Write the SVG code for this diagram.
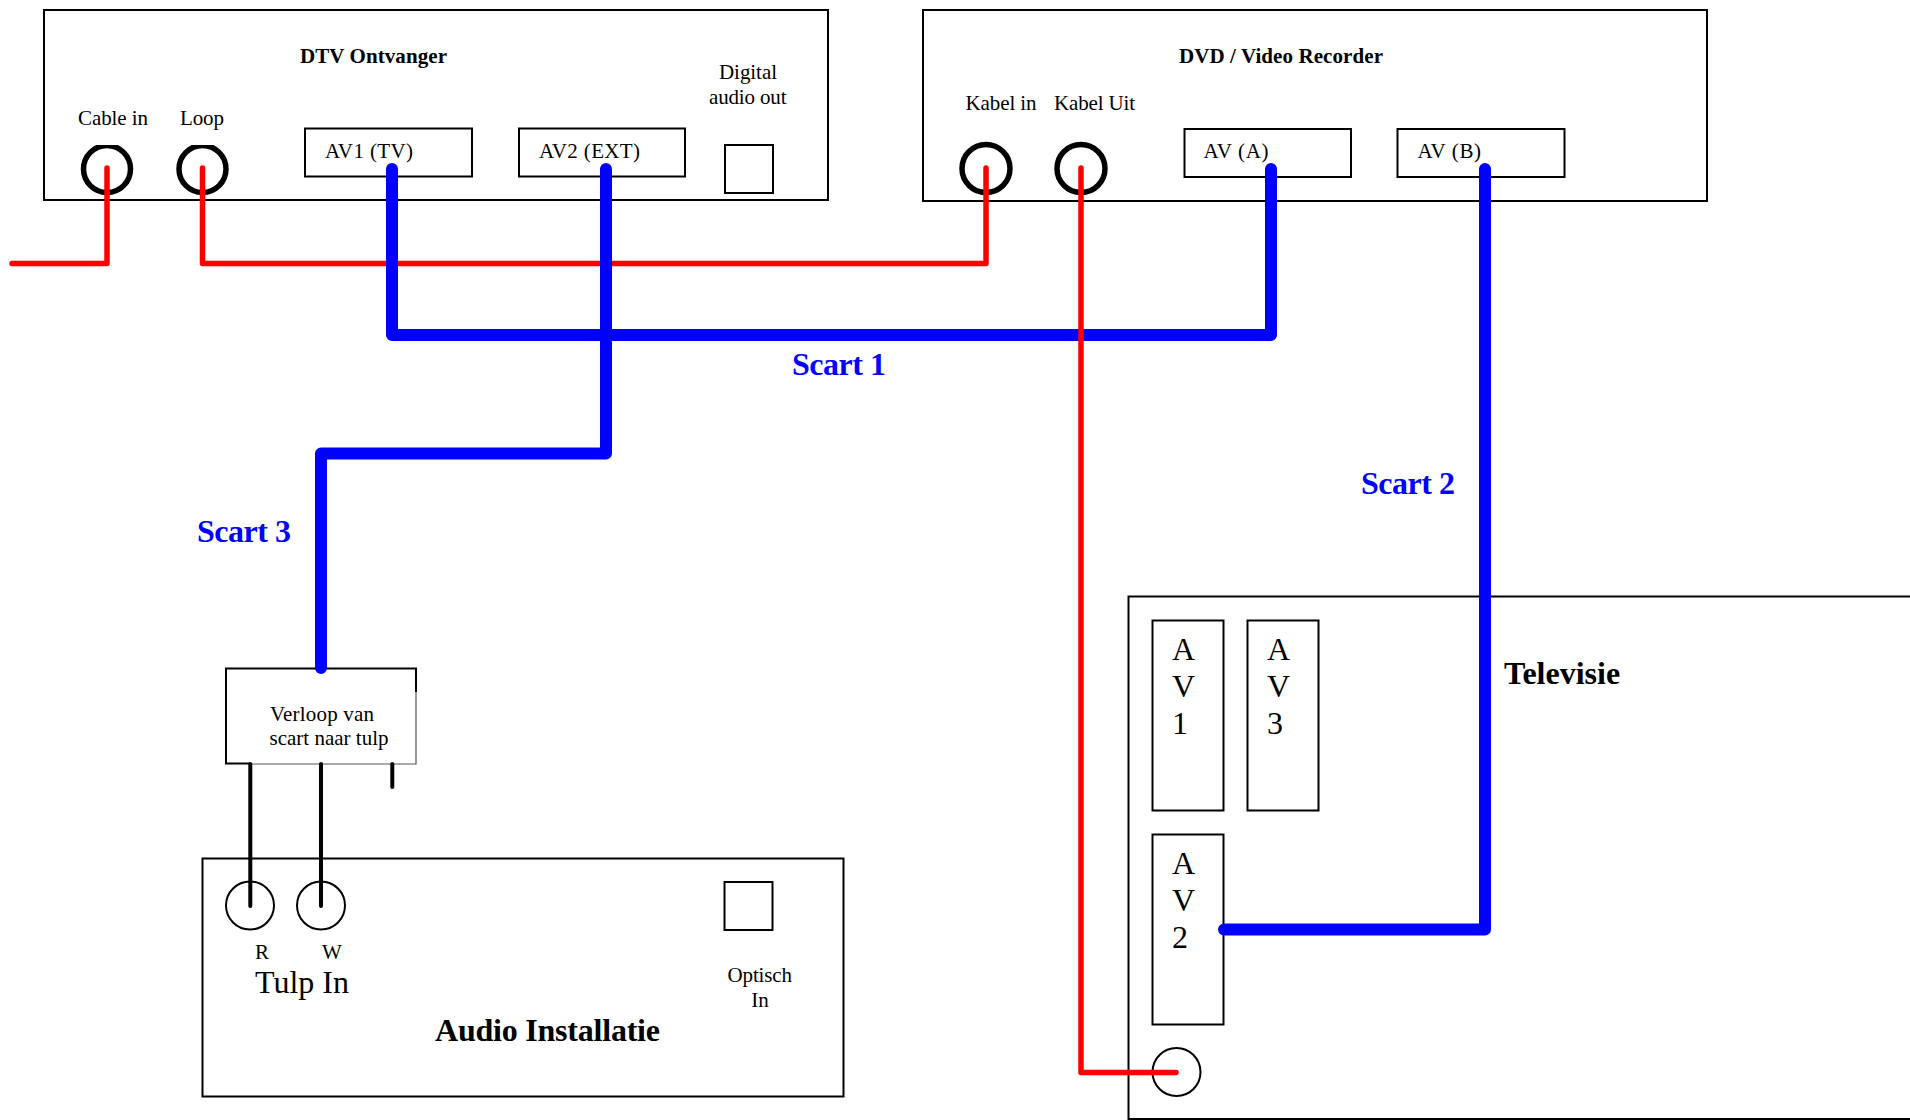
<svg xmlns="http://www.w3.org/2000/svg" width="1910" height="1120" viewBox="0 0 1910 1120">
<defs>
<clipPath id="top145"><rect x="60" y="145" width="170" height="60"/></clipPath>
</defs>
<style>
text{font-family:"Liberation Serif","Times New Roman",serif;fill:#000}
.s{font-size:21px}
.b{font-size:21px;font-weight:bold}
.l{font-size:32px}
.lb{font-size:32px;font-weight:bold}
.sc{font-size:32px;font-weight:bold;fill:#00f}
.box{fill:#fff;stroke:#000;stroke-width:2}
.jack{fill:none;stroke:#000;stroke-width:5.500}
.thin{fill:none;stroke:#000;stroke-width:2}
.red{fill:none;stroke:#f00;stroke-width:5.500;stroke-linecap:round;stroke-linejoin:round}
.blue{fill:none;stroke:#00f;stroke-width:12;stroke-linecap:round;stroke-linejoin:round}
.blk{fill:none;stroke:#000;stroke-width:4;stroke-linecap:round}
</style>
<rect width="1910" height="1120" fill="#fff"/>
<g id="dtv">
<rect class="box" x="44" y="10" width="784" height="190"/>
<text class="b" x="300" y="63" textLength="147">DTV Ontvanger</text>
<text class="s" x="78" y="125" textLength="70">Cable in</text>
<text class="s" x="180" y="125" textLength="44">Loop</text>
<text class="s" x="719" y="79" textLength="58">Digital</text>
<text class="s" x="709" y="103.500" textLength="77.500">audio out</text>
<g clip-path="url(#top145)">
<ellipse class="jack" cx="107" cy="169" rx="23.500" ry="23.500"/>
<ellipse class="jack" cx="202.500" cy="169" rx="23.500" ry="23.500"/>
</g>
<rect class="box" x="305" y="128.500" width="167" height="48"/>
<text class="s" x="325" y="158" textLength="88">AV1 (TV)</text>
<rect class="box" x="519" y="128.500" width="166" height="48"/>
<text class="s" x="539" y="158" textLength="101">AV2 (EXT)</text>
<rect class="box" x="725" y="145" width="48" height="48"/>
</g>
<g id="dvd">
<rect class="box" x="923" y="10" width="784" height="191"/>
<text class="b" x="1179" y="63" textLength="204">DVD / Video Recorder</text>
<text class="s" x="965.500" y="110" textLength="71">Kabel in</text>
<text class="s" x="1054" y="110" textLength="81">Kabel Uit</text>
<ellipse class="jack" cx="986" cy="168.500" rx="24" ry="24"/>
<ellipse class="jack" cx="1081" cy="168.500" rx="24" ry="24"/>
<rect class="box" x="1184.500" y="129" width="166.500" height="48"/>
<text class="s" x="1203.500" y="158" textLength="65">AV (A)</text>
<rect class="box" x="1397.500" y="129" width="167" height="48"/>
<text class="s" x="1417.500" y="158" textLength="63.500">AV (B)</text>
</g>
<g id="tv">
<path class="thin" d="M1911 1119H1128.500V596.500H1911"/>
<text class="lb" x="1504" y="684">Televisie</text>
<rect class="box" x="1152.500" y="620.500" width="71" height="190"/>
<text class="l" x="1172" y="660">A</text><text class="l" x="1172" y="697">V</text><text class="l" x="1172" y="734">1</text>
<rect class="box" x="1247.500" y="620.500" width="71" height="190"/>
<text class="l" x="1267" y="660">A</text><text class="l" x="1267" y="697">V</text><text class="l" x="1267" y="734">3</text>
<rect class="box" x="1152.500" y="834.500" width="71" height="190"/>
<text class="l" x="1172" y="874">A</text><text class="l" x="1172" y="911">V</text><text class="l" x="1172" y="948">2</text>
<circle class="thin" cx="1176.500" cy="1072" r="24"/>
</g>
<g id="adapter">
<rect x="226" y="668.500" width="190" height="95" fill="#fff"/>
<path class="thin" d="M416 692V668.500H226V763.500H250"/>
<path fill="none" stroke="#555" stroke-width="1.200" d="M416 692V764H250"/>
<text class="s" x="270" y="721" textLength="104">Verloop van</text>
<text class="s" x="269.500" y="745" textLength="119">scart naar tulp</text>
</g>
<g id="audio">
<rect class="box" x="202.500" y="858.500" width="641" height="238"/>
<circle class="thin" cx="250" cy="905.500" r="24"/>
<circle class="thin" cx="321" cy="905.500" r="24"/>
<text class="s" x="255" y="959">R</text>
<text class="s" x="322" y="959">W</text>
<text class="l" x="255" y="993" textLength="94">Tulp In</text>
<text class="lb" x="435" y="1041" textLength="225">Audio Installatie</text>
<rect class="box" x="724.500" y="882" width="48" height="48"/>
<text class="s" x="727.500" y="982" textLength="64.500">Optisch</text>
<text class="s" x="760" y="1007" text-anchor="middle">In</text>
</g>
<g id="labels">
<text class="sc" x="792" y="375" textLength="94">Scart 1</text>
<text class="sc" x="1361" y="494" textLength="94">Scart 2</text>
<text class="sc" x="197" y="542" textLength="94">Scart 3</text>
</g>
<g id="connectors">
<path class="red" d="M107 168V263.500H12"/>
<path class="red" d="M202.500 168V263.500H986V168"/>
<path class="blue" d="M392 169V335H1271V169"/>
<path class="blue" d="M606 169V453.500H321V668"/>
<path class="blue" d="M1485 169V929.500H1224"/>
<path class="red" d="M1081 168V1072.500H1176"/>
<path class="blk" d="M250.300 764V906M321 764V906"/>
<path class="blk" d="M392.300 764V787"/>
</g>
</svg>
